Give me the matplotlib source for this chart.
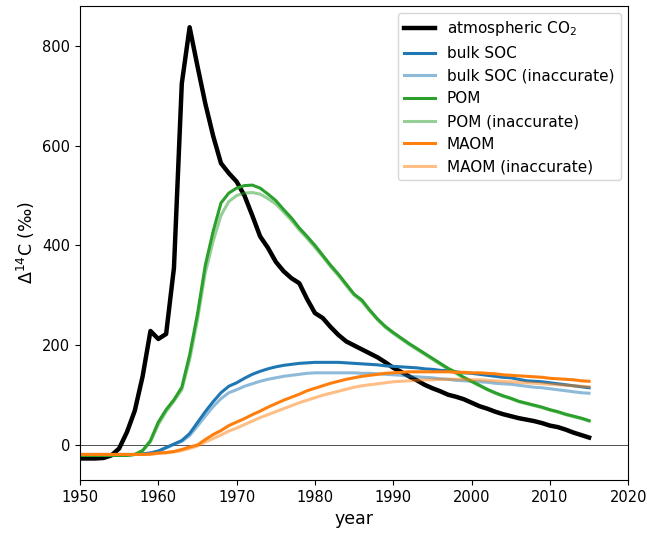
import numpy as np
import matplotlib
matplotlib.use("Agg")
import matplotlib.pyplot as plt

years = list(range(1950, 2016))

atm_co2 = [-28, -28, -28, -27, -22, -8, 25, 68, 137, 228,
           212, 222, 355, 725, 838, 760, 685, 620, 565, 545,
           528, 500, 460, 418, 395, 367, 348, 334, 324, 292,
           264, 254, 236, 220, 207, 199, 191, 183, 175, 165,
           154, 146, 137, 129, 120, 113, 107, 100, 96, 91,
           84, 77, 72, 66, 61, 57, 53, 50, 47, 43,
           38, 35, 30, 24, 19, 14]

bulk_soc = [-20, -20, -20, -20, -20, -20, -20, -20, -19, -17,
            -13, -6, 1, 8, 22, 44, 66, 86, 104, 117,
            124, 133, 141, 147, 152, 156, 159, 161, 163, 164,
            165, 165, 165, 165, 164, 163, 162, 161, 160, 158,
            157, 156, 155, 154, 152, 151, 149, 148, 146, 144,
            143, 141, 139, 137, 135, 134, 131, 128, 127, 126,
            124, 122, 120, 118, 116, 114]

bulk_soc_inacc = [-20, -20, -20, -20, -20, -20, -20, -20, -19, -17,
                  -14, -7, 0, 6, 18, 37, 57, 76, 92, 104,
                  110, 117, 122, 127, 131, 134, 137, 139, 141, 143,
                  144, 144, 144, 144, 144, 144, 143, 143, 142, 141,
                  140, 139, 137, 136, 135, 134, 132, 131, 129, 128,
                  127, 126, 125, 123, 122, 121, 119, 117, 115, 114,
                  112, 110, 108, 106, 104, 103]

pom = [-22, -22, -22, -22, -22, -22, -22, -20, -12, 8,
       45, 70, 90, 115, 180, 262, 360, 428, 485, 505,
       515, 520, 521, 515, 503, 490, 472, 455, 435, 418,
       400, 380, 360, 342, 322, 302, 290, 270, 252, 237,
       225, 214, 203, 193, 183, 173, 163, 153, 145, 135,
       127, 119, 111, 104, 98, 93, 87, 83, 79, 75,
       70, 66, 61, 57, 53, 48]

pom_inacc = [-22, -22, -22, -22, -22, -22, -22, -20, -13, 5,
             40, 66, 87, 110, 170, 250, 345, 408, 460, 488,
             500, 505, 506, 503, 494, 483, 467, 450, 431, 414,
             396, 377, 357, 339, 319, 300, 287, 268, 250, 235,
             223, 212, 201, 191, 181, 171, 161, 151, 143, 134,
             126, 118, 110, 103, 97, 92, 86, 82, 78, 74,
             69, 65, 60, 56, 52, 47]

maom = [-20, -20, -20, -20, -20, -20, -20, -20, -20, -19,
        -17, -16, -14, -10, -5, -1, 10, 20, 28, 38,
        45, 52, 60, 67, 75, 82, 89, 95, 101, 108,
        113, 118, 123, 127, 131, 134, 137, 139, 141, 143,
        144, 145, 146, 146, 146, 146, 146, 146, 145, 145,
        144, 144, 143, 142, 140, 139, 138, 137, 136, 135,
        133, 132, 131, 130, 128, 127]

maom_inacc = [-20, -20, -20, -20, -20, -20, -20, -20, -20, -20,
              -18, -17, -15, -12, -8, -3, 5, 12, 19, 27,
              33, 40, 47, 54, 60, 66, 72, 78, 84, 89,
              94, 99, 103, 107, 111, 115, 118, 120, 122, 124,
              126, 127, 128, 129, 130, 130, 131, 131, 131, 131,
              130, 130, 129, 128, 127, 126, 125, 124, 123, 122,
              121, 120, 119, 118, 117, 116]

fig = plt.figure(figsize=(6.47, 5.33), dpi=100)
ax = fig.add_axes([0.1236, 0.0994, 0.8474, 0.8899])

ax.axhline(0, color='k', lw=0.6, alpha=0.8)
ax.plot(years, atm_co2, color='k', lw=3.2, label='atmospheric CO$_2$')
ax.plot(years, bulk_soc, color='tab:blue', lw=2.2, label='bulk SOC')
ax.plot(years, bulk_soc_inacc, color='tab:blue', lw=2.2, alpha=0.5, label='bulk SOC (inaccurate)')
ax.plot(years, pom, color='tab:green', lw=2.2, label='POM')
ax.plot(years, pom_inacc, color='tab:green', lw=2.2, alpha=0.5, label='POM (inaccurate)')
ax.plot(years, maom, color='tab:orange', lw=2.2, label='MAOM')
ax.plot(years, maom_inacc, color='tab:orange', lw=2.2, alpha=0.5, label='MAOM (inaccurate)')

ax.set_xlim(1950, 2020)
ax.set_xticks(range(1950, 2021, 10))
ax.set_yticks([0, 200, 400, 600, 800])
ax.tick_params(labelsize=10.5)
ax.set_xlabel('year', fontsize=12.5)
ax.set_ylabel('$\\Delta^{14}$C (‰)', fontsize=12.5)
ax.legend(loc='upper right', fontsize=11)

fig.savefig('out.png', dpi=100)
